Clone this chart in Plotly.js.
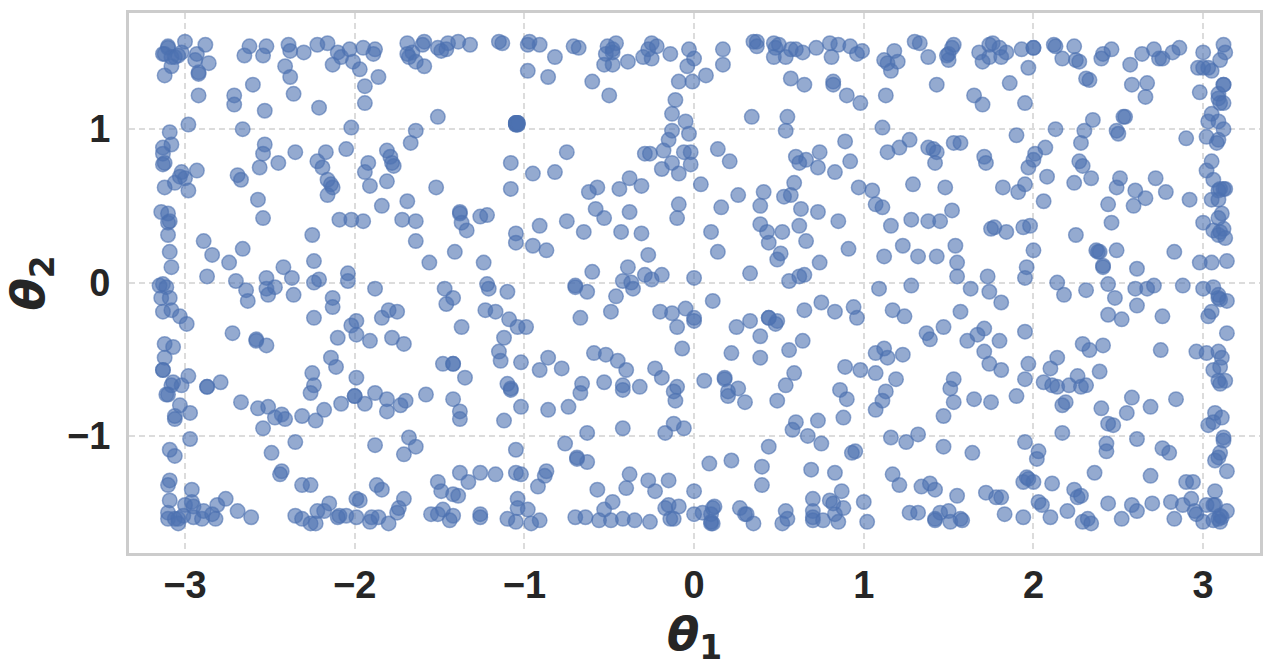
<!DOCTYPE html>
<html>
<head>
<meta charset="utf-8">
<script src="https://cdn.plot.ly/plotly-3.0.1.min.js"></script>
<style>html,body{margin:0;padding:0;background:#fff;}</style>
</head>
<body>
<div id="myDiv" style="width:1272px;height:671px;"></div>
<script>
// values, one pair of lists per part of the plot
var theta1TopLeft = [-3.10,-3.10,-3.00,-2.88,-3.13,-3.12,-3.08,-3.06,-3.04,-3.02,
-2.93,-2.94,-2.86,-3.08,-3.12,-2.92,-2.92,-2.92,-2.62,-2.52,
-2.65,-2.54,-2.39,-2.38,-2.30,-2.22,-2.16,-2.10,-2.08,-2.03,
-1.95,-1.88,-1.89,-2.01,-2.13,-2.41,-1.97,-2.38,-1.86,-1.94,
-2.60,-2.71,-2.71,-2.36,-1.94,-2.21,-2.53,-1.69,-1.59,-1.60,
-1.69,-1.66,-1.68,-1.64,-1.59,-1.51,-1.49,-1.46,-1.45,-1.39,
-1.32,-1.15,-1.13,-1.51,-2.98,-3.09,-2.66,-2.02,-1.64,-1.67,
-3.08,-3.13,-3.13,-2.53,-2.54,-2.35,-2.17,-2.05,-1.81,-1.79,
-1.92,-2.22,-2.19,-2.45,-2.56,-3.13,-3.12,-3.02,-2.93,-3.03,
-3.00,-3.06,-3.12,-2.98,-2.69,-2.67,-2.16,-2.14,-2.13,-2.16,
-1.94,-1.91,-1.81,-1.78,-1.77,-1.08,-1.52,-1.08,-2.57,-1.84,
-1.69,-3.14,-3.10,-3.09,-3.10,-2.54,-2.09,-2.02,-1.95,-1.72,
-1.64,-1.38,-1.38,-1.26,-1.22,-1.37,-1.34,-3.10,-2.89,-2.25,
-1.64,-1.05,-1.05,-3.09,-2.84,-2.66,-2.74,-2.42,-2.24,-1.56,
-1.41,-1.24,-3.08,-2.87,-2.70,-2.52,-2.37,-2.21,-2.24,-2.04,-2.04];
var theta2TopLeft = [1.54,1.53,1.57,1.55,1.49,1.49,1.47,1.47,1.48,1.50,
1.49,1.45,1.43,1.41,1.35,1.37,1.36,1.22,1.54,1.54,
1.48,1.48,1.55,1.51,1.50,1.55,1.56,1.50,1.47,1.52,
1.53,1.52,1.49,1.44,1.42,1.41,1.39,1.34,1.34,1.28,
1.29,1.22,1.16,1.23,1.17,1.14,1.12,1.56,1.57,1.55,
1.49,1.50,1.47,1.44,1.41,1.53,1.51,1.52,1.56,1.57,
1.55,1.57,1.56,1.08,1.03,0.98,1.00,1.01,0.99,0.91,
0.90,0.88,0.84,0.90,0.84,0.85,0.85,0.87,0.86,0.82,
0.78,0.79,0.75,0.78,0.75,0.77,0.78,0.72,0.73,0.69,
0.68,0.65,0.62,0.60,0.70,0.67,0.67,0.64,0.62,0.57,
0.72,0.63,0.66,0.78,0.76,0.78,0.62,0.61,0.54,0.50,
0.53,0.46,0.45,0.40,0.39,0.42,0.41,0.41,0.40,0.41,
0.40,0.45,0.46,0.43,0.44,0.39,0.34,0.31,0.27,0.31,
0.27,0.32,0.26,0.20,0.18,0.22,0.13,0.10,0.14,0.13,
0.20,0.13,0.10,0.04,0.01,0.03,0.03,0.02,0.00,0.06,0.01];

var theta1Dense = [-1.05,-1.05,-1.04,-1.04,-1.05,-1.04,-1.05,-1.04,-1.05,-1.04];
var theta2Dense = [1.04,1.03,1.04,1.03,1.04,1.04,1.03,1.03,1.04,1.04];

var theta1BottomLeft = [-3.15,-3.13,-3.11,-3.14,-3.09,-2.64,-2.63,-2.52,-2.51,-2.47,
-2.36,-2.13,-2.13,-1.88,-1.47,-1.42,-1.46,-1.22,-1.21,-1.10,
-3.13,-3.08,-3.03,-2.99,-2.24,-1.99,-2.02,-1.99,-1.80,-1.84,
-1.75,-1.23,-1.17,-1.09,-1.04,-1.37,-2.72,-2.58,-2.58,-2.52,
-2.10,-1.91,-1.78,-1.71,-1.12,-3.12,-3.07,-1.15,-1.14,-3.12,
-2.14,-2.11,-1.48,-1.42,-1.42,-1.02,-3.13,-3.13,-2.25,-1.35,
-3.07,-2.98,-3.08,-3.02,-2.79,-2.87,-2.87,-1.99,-2.24,-1.10,
-1.08,-1.08,-2.26,-3.10,-3.11,-2.00,-2.00,-1.88,-1.58,-1.81,
-1.70,-1.42,-3.03,-2.67,-2.08,-1.94,-1.73,-2.57,-2.51,-2.97,
-2.18,-1.81,-1.38,-1.02,-3.06,-3.06,-2.43,-2.47,-2.41,-2.31,
-2.23,-1.38,-1.12,-2.54,-1.68,-2.97,-2.35,-3.09,-3.06,-2.49,
-1.88,-1.64,-1.71,-1.05,-2.43,-2.44,-3.09,-3.10,-2.31,-2.26,
-1.87,-1.84,-1.51,-1.38,-1.33,-1.26,-1.17,-1.05,-1.02,-1.49,
-1.42,-1.39,-2.96,-3.09,-2.96,-3.00,-2.95,-2.81,-2.76,-2.69,
-1.99,-1.97,-1.71,-1.04,-1.04,-2.15,-1.74,-1.75,-2.18,-2.22,
-3.10,-3.10,-3.06,-3.04,-3.01,-3.04,-2.95,-2.90,-2.89,-2.84,
-2.82,-2.61,-2.35,-2.31,-2.26,-2.23,-2.10,-2.09,-2.05,-1.99,
-1.90,-1.91,-1.86,-1.80,-1.48,-1.55,-1.51,-1.42,-1.44,-1.26,
-1.26,-1.10,-1.05];
var theta2BottomLeft = [-0.02,-0.01,-0.03,-0.10,-0.10,-0.05,-0.12,-0.04,-0.08,-0.03,
-0.08,-0.10,-0.16,-0.04,-0.04,-0.10,-0.14,-0.01,-0.04,-0.06,
-0.19,-0.18,-0.22,-0.27,-0.23,-0.25,-0.28,-0.34,-0.18,-0.23,
-0.19,-0.18,-0.19,-0.24,-0.29,-0.29,-0.33,-0.37,-0.38,-0.41,
-0.36,-0.38,-0.36,-0.40,-0.36,-0.40,-0.42,-0.45,-0.51,-0.49,
-0.49,-0.55,-0.53,-0.53,-0.53,-0.52,-0.57,-0.57,-0.59,-0.62,
-0.65,-0.61,-0.67,-0.67,-0.65,-0.68,-0.68,-0.62,-0.67,-0.66,
-0.69,-0.70,-0.72,-0.73,-0.73,-0.74,-0.74,-0.72,-0.73,-0.76,
-0.77,-0.76,-0.80,-0.78,-0.79,-0.79,-0.80,-0.82,-0.81,-0.85,
-0.83,-0.84,-0.84,-0.81,-0.87,-0.89,-0.86,-0.88,-0.89,-0.87,
-0.90,-0.89,-0.90,-0.95,-1.01,-1.02,-1.04,-1.09,-1.13,-1.11,
-1.06,-1.07,-1.12,-1.09,-1.23,-1.25,-1.29,-1.32,-1.32,-1.32,
-1.32,-1.35,-1.30,-1.24,-1.30,-1.24,-1.25,-1.24,-1.25,-1.36,
-1.38,-1.39,-1.35,-1.42,-1.43,-1.45,-1.46,-1.45,-1.41,-1.49,
-1.41,-1.42,-1.41,-1.41,-1.47,-1.44,-1.47,-1.50,-1.49,-1.49,
-1.50,-1.54,-1.54,-1.54,-1.52,-1.57,-1.53,-1.54,-1.49,-1.51,
-1.54,-1.53,-1.52,-1.54,-1.57,-1.57,-1.53,-1.52,-1.52,-1.53,
-1.53,-1.56,-1.53,-1.57,-1.48,-1.51,-1.51,-1.52,-1.55,-1.51,
-1.53,-1.54,-1.56];

var theta1TopMid = [-0.98,-0.97,-0.91,-0.82,-0.98,-0.86,-0.71,-0.68,-0.60,-0.50,
-0.51,-0.46,-0.48,-0.52,-0.48,-0.53,-0.48,-0.39,-0.30,-0.27,
-0.25,-0.22,-0.25,-0.14,-0.03,0.00,-0.04,0.07,-0.09,-0.01,
0.17,0.17,-0.11,-0.13,-0.05,-0.13,-0.15,-0.03,-0.18,-0.29,
-0.26,-0.13,-0.06,-0.02,-0.19,-0.09,-0.02,0.34,0.55,0.54,
0.14,0.21,0.35,0.37,0.37,0.47,0.50,0.48,0.47,0.54,
0.57,0.60,0.64,0.72,0.80,0.85,0.81,0.92,0.96,0.99,
0.57,0.65,0.82,0.82,0.90,0.98,0.89,0.74,0.60,0.66,
0.62,0.73,0.83,0.92,-0.75,-0.95,-0.82,-0.38,-0.31,-0.44,
-0.57,-0.62,0.04,0.26,0.41,0.59,0.57,0.53,0.97,1.05,
1.07,-0.09,0.16,0.39,0.63,0.73,-0.58,-0.38,-0.53,-0.10,
-0.91,-0.75,0.85,0.39,0.62,-0.65,-0.43,-0.31,0.10,0.43,
0.52,0.44,0.66,-0.95,-0.87,-0.27,0.14,0.91,0.51,0.49,
0.74,-0.39,-0.60,-0.29,-0.19,0.33,0.65,0.62,-0.42,-0.25,
-0.37,0.00,0.56];
var theta2TopMid = [1.55,1.57,1.55,1.47,1.38,1.34,1.54,1.53,1.31,1.22,
1.54,1.56,1.52,1.49,1.50,1.42,1.42,1.44,1.47,1.52,
1.56,1.54,1.46,1.49,1.52,1.46,1.41,1.35,1.31,1.31,
1.52,1.42,1.19,1.10,1.05,0.99,0.93,0.97,0.86,0.84,
0.84,0.78,0.85,0.85,0.74,0.71,0.77,1.08,1.08,0.99,
0.87,0.79,1.57,1.57,1.54,1.56,1.55,1.53,1.47,1.47,
1.52,1.52,1.50,1.53,1.56,1.55,1.47,1.54,1.49,1.51,
1.33,1.29,1.31,1.29,1.22,1.17,0.92,0.85,0.82,0.80,
0.78,0.75,0.72,0.79,0.85,0.71,0.72,0.68,0.63,0.61,
0.62,0.59,0.64,0.57,0.59,0.65,0.57,0.56,0.62,0.60,
0.51,0.51,0.49,0.50,0.48,0.46,0.48,0.46,0.42,0.42,
0.37,0.40,0.40,0.38,0.37,0.33,0.33,0.32,0.33,0.33,
0.33,0.26,0.27,0.24,0.21,0.18,0.20,0.22,0.19,0.15,
0.13,0.10,0.07,0.05,0.05,0.06,0.05,0.04,0.01,0.02,
0.00,0.03,0.01];

var theta1BottomMid = [-0.70,-0.70,-0.63,-0.36,-0.46,-0.49,-0.67,-0.99,-0.20,-0.13,
-0.05,0.00,0.00,0.11,-0.10,0.25,0.33,0.44,0.44,0.49,
0.48,0.39,0.65,0.75,0.83,0.94,0.96,1.09,0.56,0.64,
-0.07,0.22,0.39,-0.59,-0.52,-0.45,-0.40,-0.86,-0.91,
-0.78,-0.23,-0.19,0.89,0.98,1.07,1.07,0.59,0.54,0.06,
0.18,0.18,0.26,0.20,0.20,0.30,0.49,0.86,0.90,-0.66,
-0.67,-0.53,-0.42,-0.42,-0.32,-0.10,-0.12,-0.11,-0.86,
-0.74,0.88,0.73,0.60,0.58,0.67,0.75,-0.42,-0.63,-0.12,
-0.06,-0.17,-0.76,0.44,0.93,0.95,-0.69,-0.69,-0.63,0.09,
0.22,0.40,0.69,0.83,-0.87,-0.88,-0.38,-0.27,-0.15,
-0.92,-0.57,-0.40,-0.23,0.00,0.40,0.87,0.70,0.80,0.82,
0.88,1.00,-0.48,-0.53,-0.15,-0.09,-0.17,0.12,0.11,0.05,
0.00,0.10,0.27,0.30,0.31,0.54,0.70,0.83,-0.98,-0.70,
-0.64,-0.56,-0.49,-0.42,-0.35,-0.26,-0.14,-0.12,0.10,0.10,
0.11,0.35,0.52,0.55,0.70,0.70,0.76,0.85,1.02,-0.91,-0.96,1.07];
var theta2BottomMid = [-0.02,-0.03,-0.06,-0.04,-0.09,-0.19,-0.23,-0.29,-0.19,-0.20,
-0.17,-0.23,-0.25,-0.12,-0.29,-0.29,-0.25,-0.23,-0.23,-0.25,
-0.27,-0.35,-0.18,-0.13,-0.19,-0.16,-0.23,-0.04,-0.44,-0.38,
-0.43,-0.46,-0.49,-0.46,-0.47,-0.51,-0.57,-0.49,-0.57,
-0.56,-0.56,-0.62,-0.55,-0.57,-0.59,-0.46,-0.59,-0.67,-0.64,
-0.62,-0.63,-0.69,-0.71,-0.74,-0.78,-0.77,-0.70,-0.76,-0.66,
-0.72,-0.65,-0.67,-0.70,-0.68,-0.68,-0.71,-0.77,-0.83,
-0.81,-0.88,-0.90,-0.91,-0.96,-1.00,-1.05,-0.95,-0.98,-0.92,
-0.95,-0.98,-1.05,-1.07,-1.11,-1.10,-1.14,-1.15,-1.17,-1.18,
-1.16,-1.20,-1.22,-1.24,-1.23,-1.26,-1.25,-1.29,-1.29,
-1.33,-1.35,-1.34,-1.36,-1.36,-1.32,-1.36,-1.41,-1.42,-1.44,
-1.47,-1.43,-1.43,-1.48,-1.45,-1.46,-1.47,-1.46,-1.47,-1.50,
-1.51,-1.51,-1.47,-1.51,-1.51,-1.49,-1.49,-1.51,-1.48,-1.53,
-1.53,-1.55,-1.55,-1.54,-1.55,-1.56,-1.54,-1.54,-1.56,-1.57,
-1.57,-1.57,-1.57,-1.54,-1.53,-1.55,-1.55,-1.56,-1.56,-1.55,-1.57,-0.83];

var theta1TopRight = [1.12,1.14,1.18,1.20,1.16,1.30,1.33,1.38,1.13,1.43,
1.11,1.50,1.50,1.53,1.52,1.49,1.68,1.70,1.74,1.74,
1.76,1.80,1.81,1.84,1.93,2.00,2.00,1.97,1.86,1.65,
1.70,1.95,2.12,2.13,2.17,2.24,2.25,2.27,2.40,2.41,
2.46,2.57,2.64,2.71,2.74,2.76,2.82,2.86,3.00,2.97,
3.00,3.03,3.05,3.12,3.13,3.10,2.31,2.33,2.58,2.67,
2.66,2.98,3.12,3.12,3.09,3.09,3.10,3.12,3.05,3.03,
3.09,2.35,2.53,2.54,3.12,2.13,1.90,2.30,2.49,2.50,
2.90,3.02,3.09,3.08,2.28,1.27,1.14,1.21,1.38,1.41,
1.43,1.53,1.57,1.71,1.72,1.42,2.07,2.01,2.00,1.97,
2.27,2.29,3.05,3.02,2.08,1.29,1.48,1.82,1.91,1.95,
2.24,2.34,2.51,2.49,2.60,2.66,2.72,2.78,3.06,3.09,
3.10,3.12,3.13,2.92,3.05,3.09,2.06,2.44,2.59,1.11,
1.52,3.11,3.09,1.16,1.28,1.38,1.45,1.75,1.77,1.84,
1.94,1.98,2.46,3.00,3.06,3.12,3.10,3.09,3.13,2.25,
1.12,1.23,1.32,1.43,1.54,1.55,1.55,1.73,1.96,1.95,
2.00,2.37,2.38,2.39,2.41,2.41,2.49,2.61,2.83,2.98,
3.05,3.14];
var theta2TopRight = [1.45,1.43,1.51,1.44,1.38,1.57,1.56,1.47,1.22,1.29,
1.01,1.49,1.45,1.55,1.53,1.48,1.50,1.44,1.47,1.55,
1.56,1.53,1.47,1.50,1.52,1.53,1.53,1.40,1.30,1.22,
1.16,1.17,1.55,1.54,1.46,1.54,1.45,1.44,1.46,1.49,
1.52,1.42,1.49,1.52,1.46,1.46,1.50,1.53,1.50,1.40,
1.40,1.40,1.38,1.55,1.50,1.45,1.33,1.32,1.29,1.30,
1.21,1.24,1.29,1.29,1.23,1.20,1.17,1.17,1.10,1.05,
1.05,1.06,1.08,1.08,1.00,1.00,0.96,0.99,0.99,0.97,
0.94,0.95,0.93,0.91,0.91,0.93,0.85,0.88,0.88,0.87,
0.85,0.91,0.91,0.82,0.78,0.78,0.88,0.84,0.80,0.75,
0.79,0.76,0.79,0.73,0.69,0.64,0.62,0.62,0.59,0.64,
0.65,0.68,0.68,0.62,0.60,0.55,0.68,0.59,0.67,0.60,
0.61,0.61,0.61,0.54,0.54,0.54,0.53,0.51,0.50,0.49,
0.47,0.45,0.42,0.37,0.41,0.40,0.40,0.35,0.36,0.33,
0.36,0.37,0.39,0.39,0.34,0.35,0.33,0.31,0.29,0.31,
0.17,0.24,0.17,0.17,0.24,0.13,0.04,0.04,0.10,0.03,
0.21,0.21,0.20,0.20,0.11,0.10,0.21,0.09,0.20,0.13,
0.13,0.14];

var theta1BottomRight = [1.28,1.63,1.74,1.81,2.14,2.18,2.31,2.44,2.48,2.60,
2.67,2.71,2.88,3.00,3.06,3.09,3.09,3.10,3.14,1.17,
1.24,1.57,2.61,2.44,2.52,2.76,3.05,3.03,3.14,1.47,
1.37,1.39,1.71,1.67,1.61,1.80,1.95,2.29,2.33,2.41,
2.75,1.71,2.96,3.02,3.09,3.11,1.12,1.14,1.23,2.14,
2.10,1.74,1.81,1.97,2.39,3.10,3.06,2.26,1.53,1.19,
1.95,2.06,2.11,2.14,2.21,2.28,2.31,3.09,3.13,3.10,
1.51,1.13,1.65,1.75,1.90,1.53,2.58,2.84,1.11,2.69,
2.40,2.19,2.17,2.55,1.47,3.07,3.11,3.06,3.03,2.44,
2.47,2.17,1.32,1.16,1.25,1.95,2.61,3.12,3.12,1.47,
2.43,2.43,2.76,2.80,1.64,2.03,2.02,3.10,3.09,3.07,
3.14,1.17,2.36,2.69,1.21,1.34,1.39,1.42,1.55,1.72,
1.78,1.81,1.94,1.96,1.97,2.00,2.11,2.24,2.26,2.28,
2.90,2.94,3.07,2.03,2.05,2.44,2.58,2.61,2.70,2.81,
2.88,2.93,3.02,3.06,3.07,1.27,1.32,1.45,1.50,1.42,
1.42,1.51,1.57,1.58,1.83,1.94,2.10,2.20,2.29,2.32,
2.34,2.52,2.83,2.95,2.96,3.00,3.06,3.09,3.10,3.11,
3.10,3.14];
var theta2BottomRight = [-0.02,-0.04,-0.06,-0.13,0.00,-0.08,-0.05,-0.01,-0.10,-0.04,
-0.04,-0.02,-0.02,-0.04,-0.03,-0.08,-0.10,-0.11,-0.12,-0.18,
-0.22,-0.19,-0.15,-0.21,-0.24,-0.22,-0.19,-0.22,-0.33,-0.29,
-0.33,-0.37,-0.30,-0.34,-0.38,-0.38,-0.32,-0.40,-0.44,-0.41,
-0.44,-0.45,-0.45,-0.46,-0.45,-0.49,-0.43,-0.49,-0.47,-0.49,
-0.56,-0.53,-0.57,-0.53,-0.58,-0.55,-0.57,-0.61,-0.63,-0.63,
-0.63,-0.65,-0.67,-0.68,-0.67,-0.68,-0.67,-0.64,-0.64,-0.66,
-0.69,-0.71,-0.76,-0.78,-0.74,-0.78,-0.75,-0.76,-0.77,-0.81,
-0.82,-0.78,-0.80,-0.85,-0.87,-0.85,-0.88,-0.91,-0.93,-0.92,
-0.93,-0.98,-0.99,-1.01,-1.04,-1.04,-1.02,-1.01,-1.03,-1.07,
-1.05,-1.10,-1.08,-1.11,-1.11,-1.10,-1.15,-1.11,-1.14,-1.16,
-1.23,-1.25,-1.24,-1.26,-1.32,-1.33,-1.31,-1.35,-1.39,-1.37,
-1.40,-1.40,-1.30,-1.27,-1.28,-1.30,-1.31,-1.35,-1.40,-1.39,
-1.30,-1.30,-1.36,-1.43,-1.45,-1.44,-1.45,-1.49,-1.44,-1.43,
-1.45,-1.41,-1.45,-1.45,-1.45,-1.50,-1.50,-1.50,-1.49,-1.54,
-1.55,-1.56,-1.54,-1.55,-1.51,-1.53,-1.53,-1.49,-1.56,-1.54,
-1.57,-1.54,-1.54,-1.49,-1.51,-1.56,-1.55,-1.54,-1.52,-1.53,
-1.56,-1.49];

var xTicks = [-3,-2,-1,0,1,2,3];
var yTicks = [-1,0,1];

function part(xs, ys, name)
{
  if(xs.length!=ys.length) throw new Error(name+' '+xs.length+' '+ys.length);
  return {
    x: xs,
    y: ys,
    mode: 'markers',
    type: 'scatter',
    name: name,
    marker: {
      color: 'rgba(76,114,176,0.6)',
      size: 14.5,
      line: {color: 'rgba(76,114,176,0.6)', width: 1.5}
    }
  };
}

var data = [
  part(theta1TopLeft, theta2TopLeft, 'top left'),
  part(theta1Dense, theta2Dense, 'dense'),
  part(theta1BottomLeft, theta2BottomLeft, 'bottom left'),
  part(theta1TopMid, theta2TopMid, 'top mid'),
  part(theta1BottomMid, theta2BottomMid, 'bottom mid'),
  part(theta1TopRight, theta2TopRight, 'top right'),
  part(theta1BottomRight, theta2BottomRight, 'bottom right')
];

var tickFont = {family: 'Liberation Sans, Arial, sans-serif', size: 38, color: '#262626', weight: 700};
var titleFont = {family: 'DejaVu Sans, sans-serif', size: 47, color: '#262626', weight: 700};

var layout = {
  width: 1272,
  height: 671,
  showlegend: false,
  paper_bgcolor: '#fff',
  plot_bgcolor: '#fff',
  margin: {l: 129, r: 12, t: 13, b: 118},
  xaxis: {
    range: [-3.33, 3.335],
    tickvals: xTicks,
    ticks: '',
    ticklabelstandoff: -4,
    tickfont: tickFont,
    title: {text: '<b><i>θ</i><sub>1</sub></b>', font: titleFont, standoff: 12},
    showgrid: true,
    gridcolor: '#dcdcdc',
    gridwidth: 1.5,
    griddash: '6px,4px',
    zeroline: false,
    showline: true,
    mirror: true,
    linecolor: '#cccccc',
    linewidth: 3
  },
  yaxis: {
    range: [-1.763, 1.757],
    tickvals: yTicks,
    ticks: '',
    ticklabelstandoff: 8,
    tickfont: tickFont,
    title: {text: '<b><i>θ</i><sub>2</sub></b>', font: titleFont, standoff: 12},
    showgrid: true,
    gridcolor: '#dcdcdc',
    gridwidth: 1.5,
    griddash: '6px,4px',
    zeroline: false,
    showline: true,
    mirror: true,
    linecolor: '#cccccc',
    linewidth: 3
  }
};

Plotly.newPlot('myDiv', data, layout, {displayModeBar: false});
</script>
</body>
</html>
